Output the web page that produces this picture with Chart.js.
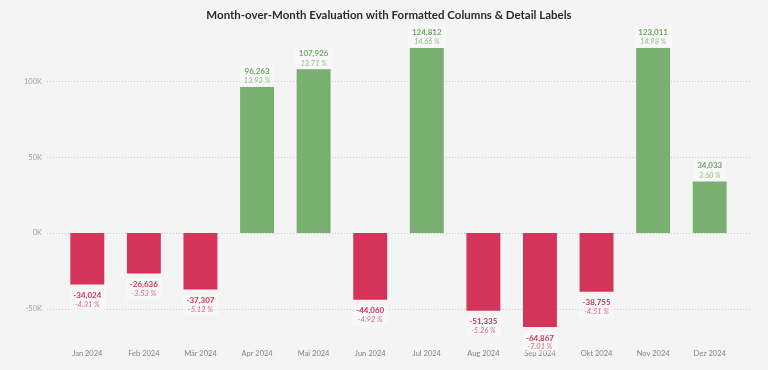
<!DOCTYPE html>
<html>
<head>
<meta charset="utf-8">
<script src="https://cdn.jsdelivr.net/npm/chart.js@4"></script>
<style>
  html, body { margin: 0; padding: 0; background: #f4f4f4; }
  #wrap { width: 768px; height: 370px; position: relative; }
</style>
</head>
<body>
<div id="wrap"><canvas id="chart"></canvas></div>
<script>
const months = ["Jan 2024", "Feb 2024", "Mär 2024", "Apr 2024", "Mai 2024", "Jun 2024",
  "Jul 2024", "Aug 2024", "Sep 2024", "Okt 2024", "Nov 2024", "Dez 2024"];
const changes = [-34024, -26636, -37307, 96263, 107926, -44060, 124812, -51335, -64867, -38755, 123011, 34033];
const percents = [-4.31, -3.53, -5.12, 13.93, 13.71, -4.92, 14.66, -5.26, -7.01, -4.51, 14.98, 3.60];
const yTicks = [-50000, 0, 50000, 100000];
const chartTitle = "Month-over-Month Evaluation with Formatted Columns & Detail Labels";

const GREEN = "#79b071";
const RED = "#d5345a";
const FONT = "Lato, 'Open Sans', sans-serif";

// title centred on the whole visual
const titlePlugin = {
  id: "visualTitle",
  afterDraw(chart) {
    const { ctx } = chart;
    ctx.save();
    ctx.font = `bold 11.5px ${FONT}`;
    ctx.fillStyle = "#2b2b2b";
    ctx.textAlign = "center";
    ctx.textBaseline = "middle";
    ctx.fillText(chartTitle, 389, 15);
    ctx.restore();
  },
};

// dotted gridlines, a bit wider than the plot area
const gridPlugin = {
  id: "dottedGrid",
  beforeDatasetsDraw(chart) {
    const { ctx, chartArea, scales } = chart;
    ctx.save();
    ctx.strokeStyle = "#c8c8c8";
    ctx.lineWidth = 1;
    ctx.setLineDash([1, 2]);
    yTicks.forEach((v) => {
      const y = Math.round(scales.y.getPixelForValue(v)) + 0.5;
      ctx.beginPath();
      ctx.moveTo(chartArea.left - 12, y);
      ctx.lineTo(chartArea.right + 12, y);
      ctx.stroke();
    });
    ctx.restore();
  },
};

// value + percent labels above / below the columns
const labelPlugin = {
  id: "detailLabels",
  afterDatasetsDraw(chart) {
    const { ctx, chartArea } = chart;
    const bars = chart.getDatasetMeta(0).data;
    ctx.save();
    ctx.textAlign = "center";
    ctx.textBaseline = "middle";
    bars.forEach((bar, i) => {
      const v = changes[i];
      const y = Math.min(Math.max(bar.y, chartArea.top), chartArea.bottom);
      const pos = v >= 0;
      const valueText = v.toLocaleString("en-US");
      const pctText = percents[i].toFixed(2) + " %";
      const yVal = pos ? y - 16 : y + 11;
      const yPct = pos ? y - 6 : y + 20;
      ctx.font = `bold 8px ${FONT}`;
      const w = Math.max(ctx.measureText(valueText).width, 24) + 8;
      ctx.fillStyle = "rgba(255,255,255,0.35)";
      ctx.fillRect(bar.x - w / 2, Math.min(yVal, yPct) - 6, w, 21);
      ctx.fillStyle = pos ? "#6aa65f" : "#d23354";
      ctx.fillText(valueText, bar.x, yVal);
      ctx.font = `italic 7.5px ${FONT}`;
      ctx.fillStyle = pos ? "#8dbd84" : "#e0647e";
      ctx.fillText(pctText, bar.x, yPct);
    });
    ctx.restore();
  },
};

new Chart(document.getElementById("chart"), {
  type: "bar",
  data: {
    labels: months,
    datasets: [
      {
        data: changes,
        backgroundColor: (c) => (c.raw >= 0 ? GREEN : RED),
        categoryPercentage: 1,
        barPercentage: 0.6,
        borderWidth: 0,
      },
    ],
  },
  options: {
    responsive: true,
    maintainAspectRatio: false,
    animation: false,
    events: [],
    layout: { padding: { top: 48, right: 30, left: 0, bottom: 0 } },
    plugins: {
      legend: { display: false },
      tooltip: { enabled: false },
      title: { display: false },
    },
    scales: {
      x: {
        grid: { display: false, drawTicks: false },
        border: { display: false },
        ticks: { color: "#858585", font: { family: FONT, size: 7.5 }, padding: 22, maxRotation: 0 },
        afterFit: (axis) => { axis.height = 43; },
      },
      y: {
        min: -62000,
        max: 122000,
        grid: { display: false, drawTicks: false },
        border: { display: false },
        afterBuildTicks: (axis) => { axis.ticks = yTicks.map((v) => ({ value: v })); },
        ticks: {
          color: "#a0a0a0",
          font: { family: FONT, size: 7.5 },
          padding: 17,
          callback: (v) => v / 1000 + "K",
        },
        afterFit: (axis) => { axis.width = 59; },
      },
    },
  },
  plugins: [gridPlugin, labelPlugin, titlePlugin],
});
</script>
</body>
</html>
